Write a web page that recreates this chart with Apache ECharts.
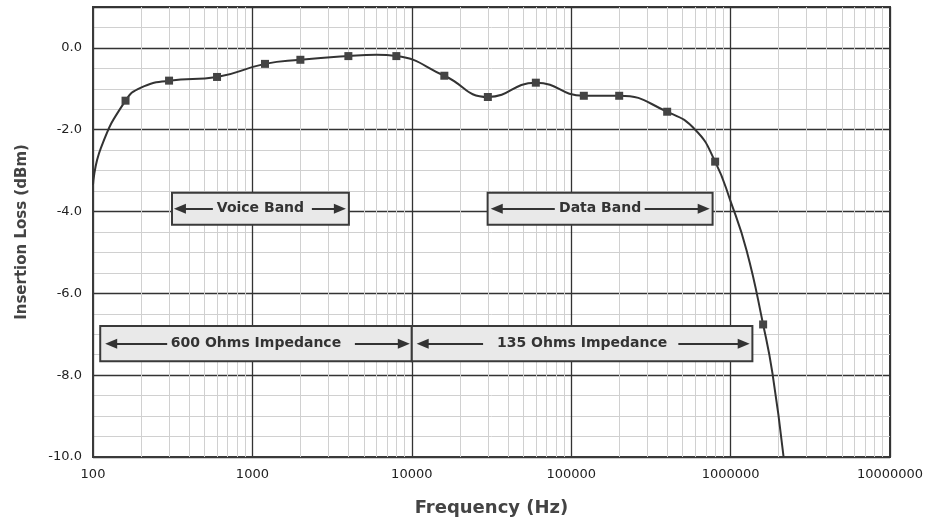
<!DOCTYPE html>
<html>
<head>
<meta charset="utf-8">
<script src="https://cdn.jsdelivr.net/npm/echarts@6/dist/echarts.min.js"></script>
<style>
html,body{margin:0;padding:0;background:#fff;}
#chart{width:930px;height:531px;}
</style>
</head>
<body>
<div id="chart"></div>
<script>
// ---- data ----
const markerFreq = [160, 300, 600, 1200, 2000, 4000, 8000, 16000, 30000, 60000, 120000, 200000, 400000, 800000, 1600000];
const markerLoss = [-1.29, -0.80, -0.71, -0.39, -0.29, -0.20, -0.20, -0.68, -1.20, -0.85, -1.17, -1.17, -1.56, -2.78, -6.76];
// extra points (no marker drawn)
const curveFreq = [100, 112, 200, 6000, 600000, 1000000, 1260000, 1830000, 2150000];
const curveLoss = [-3.35, -2.45, -0.97, -0.17, -2.00, -3.75, -4.95, -7.95, -10.0];

const yTicks = [-10, -8, -6, -4, -2, 0];
const xTickLabels = ['100', '1000', '10000', '100000', '1000000', '10000000'];

// annotation boxes (data coordinates) and their labels
const boxLabels = ['Voice Band', 'Data Band', '600 Ohms Impedance', '135 Ohms Impedance'];
const boxFrom = [[313, -3.54], [29900, -3.54], [111, -6.80], [10000, -6.80]];
const boxTo = [[4030, -4.32], [771000, -4.32], [10000, -7.66], [1370000, -7.66]];
// arrows: [start, end] in data coordinates (head at end)
const arrowStart = [[565, -3.93], [2361, -3.93], [78900, -3.93], [289000, -3.93], [292, -7.23], [4395, -7.23], [28000, -7.23], [470000, -7.23]];
const arrowEnd = [[351, -3.93], [3537, -3.93], [34100, -3.93], [678000, -3.93], [130, -7.23], [8913, -7.23], [11700, -7.23], [1208000, -7.23]];

// minor vertical grid (2..9 in each decade)
const minorX = [];
for (let d = 100; d < 1e7; d *= 10) for (let m = 2; m <= 9; m++) minorX.push(d * m);

const curve = curveFreq.map((f, i) => [f, curveLoss[i]])
  .concat(markerFreq.map((f, i) => [f, markerLoss[i]]))
  .sort((a, b) => a[0] - b[0]);
const markers = markerFreq.map((f, i) => [f, markerLoss[i]]);

const FONT = 'DejaVu Sans';
const chart = echarts.init(document.getElementById('chart'));
chart.setOption({
  animation: false,
  backgroundColor: '#fff',
  grid: { left: 93, right: 40, top: 7, bottom: 74, show: true, borderColor: '#3a3a3a', borderWidth: 2, backgroundColor: 'transparent' },
  xAxis: {
    type: 'log', logBase: 10, min: 100, max: 1e7,
    name: 'Frequency (Hz)', nameLocation: 'middle', nameGap: 42,
    nameTextStyle: { fontFamily: FONT, fontWeight: 'bold', fontSize: 18, color: '#444' },
    axisLine: { onZero: false, lineStyle: { color: '#3a3a3a', width: 2 } },
    axisTick: { show: false },
    axisLabel: { margin: 11, fontFamily: FONT, fontSize: 13, color: '#222',
      formatter: v => { const i = Math.round(Math.log10(v)) - 2; return xTickLabels[i] || ''; } },
    splitLine: { show: true, lineStyle: { color: '#333', width: 1.3 } },
    minorTick: { show: false }, minorSplitLine: { show: false }
  },
  yAxis: {
    type: 'value', min: -10, max: 1, interval: 2,
    name: 'Insertion Loss (dBm)', nameLocation: 'middle', nameGap: 63,
    nameTextStyle: { fontFamily: FONT, fontWeight: 'bold', fontSize: 15, color: '#444' },
    axisLine: { lineStyle: { color: '#3a3a3a', width: 2 } },
    axisTick: { show: false },
    axisLabel: { margin: 11, fontFamily: FONT, fontSize: 13, color: '#222',
      formatter: v => yTicks.indexOf(v) >= 0 ? v.toFixed(1) : '' },
    splitLine: { show: true, lineStyle: { color: '#333', width: 1.3 } },
    minorTick: { show: false, splitNumber: 4 },
    minorSplitLine: { show: true, lineStyle: { color: '#d0d0d0', width: 1 } }
  },
  series: [
    {
      type: 'line', data: [], z: 1, silent: true,
      markLine: { z: 1, silent: true, symbol: 'none', label: { show: false },
        lineStyle: { color: '#d0d0d0', width: 1, type: 'solid' },
        data: minorX.map(v => ({ xAxis: v })) }
    },
    {
      type: 'line', data: [], z: 2, silent: true,
      markArea: {
        z: 2, silent: true,
        itemStyle: { color: '#e9e9e9', borderColor: '#3a3a3a', borderWidth: 2 },
        label: { show: true, position: 'inside', fontFamily: FONT, fontWeight: 'bold', fontSize: 14, color: '#333' },
        data: boxLabels.map((t, i) => [
          { name: t, coord: boxFrom[i] },
          { coord: boxTo[i] }
        ])
      },
      markLine: {
        z: 3, silent: true, symbol: ['none', 'triangle'], symbolSize: [10, 12],
        label: { show: false },
        lineStyle: { color: '#333', width: 2, type: 'solid' },
        data: arrowStart.map((s, i) => [{ coord: s }, { coord: arrowEnd[i] }])
      }
    },
    {
      type: 'line', data: curve, z: 4, showSymbol: false,
      smooth: 0.5,
      lineStyle: { color: '#333', width: 2 }
    },
    {
      type: 'scatter', data: markers, z: 6, symbol: 'rect', symbolSize: 8,
      itemStyle: { color: '#444', opacity: 1 }
    }
  ]
});
</script>
</body>
</html>
